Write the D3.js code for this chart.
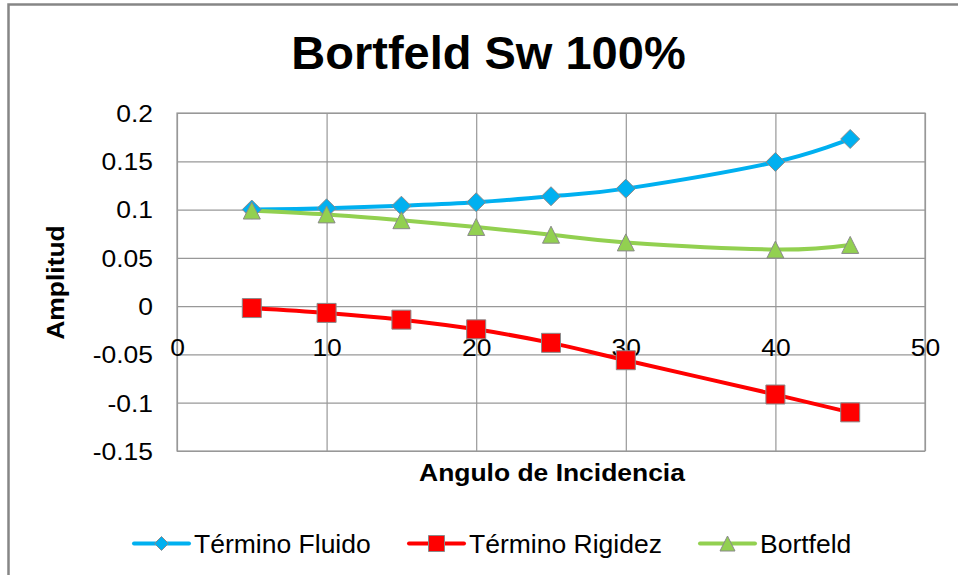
<!DOCTYPE html>
<html>
<head>
<meta charset="utf-8">
<script src="https://cdn.jsdelivr.net/npm/d3@7"></script>
<style>
  html, body { margin: 0; padding: 0; background: #fff; }
  svg { display: block; font-family: "Liberation Sans", Arial, sans-serif; }
</style>
</head>
<body>
<svg id="chart" width="958" height="575"></svg>
<script>
// ---- data ----
const angles = [5, 10, 15, 20, 25, 30, 40, 45];
const fluido = [0.100, 0.1013, 0.104, 0.1076, 0.1138, 0.1217, 0.1493, 0.1731];
const rigidez = [-0.002, -0.007, -0.014, -0.024, -0.038, -0.056, -0.0915, -0.110];
const bortfeld = [0.099, 0.095, 0.089, 0.082, 0.074, 0.066, 0.0586, 0.0634];
const seriesNames = ["Término Fluido", "Término Rigidez", "Bortfeld"];
const xTicks = [0, 10, 20, 30, 40, 50];
const xTickLabels = ["0", "10", "20", "30", "40", "50"];
const yTicks = [-0.15, -0.1, -0.05, 0, 0.05, 0.1, 0.15, 0.2];
const yTickLabels = ["-0.15", "-0.1", "-0.05", "0", "0.05", "0.1", "0.15", "0.2"];
const titleText = "Bortfeld Sw 100%";
const xTitle = "Angulo de Incidencia";
const yTitle = "Amplitud";

// ---- layout ----
const svg = d3.select("#chart");
const L = 177, R = 925, T = 113, B = 451;
const x = d3.scaleLinear().domain([0, 50]).range([L, R]);
const y = d3.scaleLinear().domain([-0.15, 0.2]).range([B, T]);
const SX = 1.15;
const gridColor = "#989898";

// outer chart border
svg.append("rect").attr("x", 8.5).attr("y", 4.5).attr("width", 1000).attr("height", 700)
  .attr("fill", "none").attr("stroke", "#868686").attr("stroke-width", 2.5);

// title
svg.append("text").attr("x", 488.5).attr("y", 69).attr("text-anchor", "middle")
  .attr("font-size", 47).attr("font-weight", "bold").attr("fill", "#000").text(titleText);

// gridlines
const gy = svg.append("g").attr("transform", `translate(${L},0)`)
  .call(d3.axisLeft(y).tickValues(yTicks).tickSize(-(R - L)).tickFormat(""));
gy.select(".domain").remove();
gy.selectAll(".tick line").attr("stroke", gridColor).attr("stroke-width", 1.2);

const gx = svg.append("g").attr("transform", `translate(0,${B})`)
  .call(d3.axisBottom(x).tickValues(xTicks).tickSize(-(B - T)).tickFormat(""));
gx.select(".domain").remove();
gx.selectAll(".tick line").attr("stroke", gridColor).attr("stroke-width", 1.2);

// plot border
svg.append("rect").attr("x", L).attr("y", T).attr("width", R - L).attr("height", B - T)
  .attr("fill", "none").attr("stroke", gridColor).attr("stroke-width", 1.2);

// y tick labels
const ya = svg.append("g").attr("transform", `translate(${L},0)`)
  .call(d3.axisLeft(y).tickValues(yTicks).tickSize(0).tickPadding(0)
    .tickFormat((d, i) => yTickLabels[i]));
ya.select(".domain").remove();
ya.selectAll(".tick text")
  .attr("font-family", "Liberation Sans, Arial, sans-serif")
  .attr("font-size", 23).attr("fill", "#000")
  .attr("x", -24 / SX).attr("dy", "0.36em")
  .attr("transform", `scale(${SX},1)`);

// x tick labels (axis crosses at 0)
const xa = svg.append("g").attr("transform", `translate(0,${y(0)})`)
  .call(d3.axisBottom(x).tickValues(xTicks).tickSize(0).tickPadding(0)
    .tickFormat((d, i) => xTickLabels[i]));
xa.select(".domain").remove();
xa.selectAll(".tick text")
  .attr("font-family", "Liberation Sans, Arial, sans-serif")
  .attr("font-size", 23).attr("fill", "#000")
  .attr("y", 50).attr("dy", 0)
  .attr("transform", `scale(${SX},1)`);

// axis titles
svg.append("text").attr("transform", `translate(552,481) scale(${SX},1)`)
  .attr("text-anchor", "middle").attr("font-size", 23).attr("font-weight", "bold")
  .attr("fill", "#000").text(xTitle);
svg.append("text").attr("transform", `translate(64,282.5) rotate(-90) scale(${SX},1)`)
  .attr("text-anchor", "middle").attr("font-size", 23).attr("font-weight", "bold")
  .attr("fill", "#000").text(yTitle);

// series
const colors = ["#00B0F0", "#FF0000", "#92D050"];
const values = [fluido, rigidez, bortfeld];
const shapes = ["diamond", "square", "triangle"];
const markerStroke = "#8a8a8a";

function markerPath(shape, s) {
  const h = s / 2;
  if (shape === "diamond") return `M0,${-h}L${h},0L0,${h}L${-h},0Z`;
  if (shape === "square") return `M${-h},${-h}H${h}V${h}H${-h}Z`;
  return `M0,${-h}L${h},${h}L${-h},${h}Z`;
}

const line = d3.line().x(d => x(d[0])).y(d => y(d[1])).curve(d3.curveCardinal.tension(0));

values.forEach((vals, si) => {
  const pts = angles.map((a, i) => [a, vals[i]]);
  svg.append("path").datum(pts).attr("d", line).attr("fill", "none")
    .attr("stroke", colors[si]).attr("stroke-width", 4).attr("stroke-linejoin", "round");
});
const markerSizes = [19, 19, 17];
values.forEach((vals, si) => {
  const pts = angles.map((a, i) => [a, vals[i]]);
  svg.append("g").selectAll("path").data(pts).join("path")
    .attr("transform", d => `translate(${x(d[0])},${y(d[1])})`)
    .attr("d", markerPath(shapes[si], markerSizes[si]))
    .attr("fill", colors[si]).attr("stroke", markerStroke).attr("stroke-width", 1);
});

// legend
const legX = [134, 409, 700];
const legY = 543.5;
const legMarker = [14, 16, 15];
seriesNames.forEach((name, i) => {
  const g = svg.append("g").attr("transform", `translate(${legX[i]},${legY})`);
  g.append("line").attr("x1", 0).attr("x2", 55).attr("y1", 0).attr("y2", 0)
    .attr("stroke", colors[i]).attr("stroke-width", 4).attr("stroke-linecap", "round");
  g.append("path").attr("transform", "translate(27.5,0)")
    .attr("d", markerPath(shapes[i], legMarker[i]))
    .attr("fill", colors[i]).attr("stroke", markerStroke).attr("stroke-width", 1);
  g.append("text").attr("x", 60).attr("y", 9).attr("font-size", 26.5)
    .attr("fill", "#000").text(name);
});
</script>
</body>
</html>
